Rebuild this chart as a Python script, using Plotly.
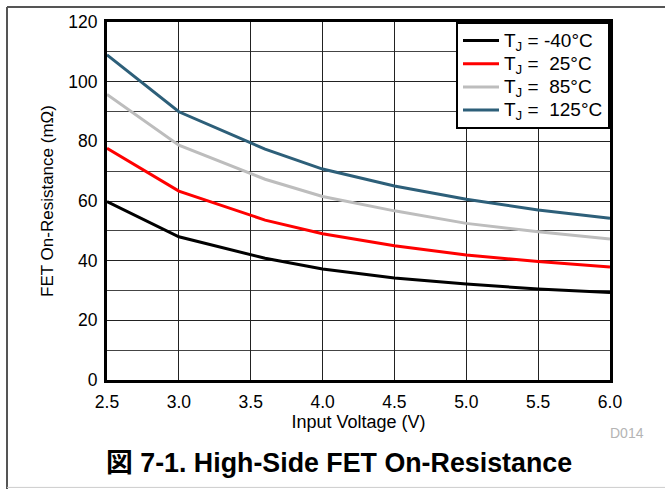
import plotly.graph_objects as go

voltage = [2.5, 3.0, 3.6, 4.0, 4.5, 5.0, 5.5, 6.0]
r_m40 = [59.8, 48.0, 40.8, 37.2, 34.2, 32.2, 30.5, 29.3]
r_25 = [77.7, 63.3, 53.6, 49.0, 45.0, 41.9, 39.7, 37.9]
r_85 = [95.7, 78.7, 67.3, 61.5, 56.7, 52.5, 49.7, 47.3]
r_125 = [109.0, 89.9, 77.4, 70.7, 65.0, 60.6, 57.0, 54.2]

labels = ["T<sub>J</sub> = -40°C", "T<sub>J</sub> =&nbsp; 25°C",
          "T<sub>J</sub> =&nbsp; 85°C", "T<sub>J</sub> =&nbsp; 125°C"]
colors = ["#000000", "#ff0000", "#bdbdbd", "#2d5f79"]
values = [r_m40, r_25, r_85, r_125]

x_ticks = [2.5, 3.0, 3.5, 4.0, 4.5, 5.0, 5.5, 6.0]
x_ticktext = ["2.5", "3.0", "3.5", "4.0", "4.5", "5.0", "5.5", "6.0"]

FONT = "Liberation Sans, Arial, sans-serif"

fig = go.Figure()
for name, vals, color in zip(labels, values, colors):
    fig.add_trace(go.Scatter(x=voltage, y=vals, mode="lines",
                             name="<span style='font-size:19px'>" + name + "</span>",
                             line=dict(color=color, width=3)))

L, R, T, B = 107, 610, 20, 380
W, H = 665, 489

fig.update_layout(
    width=W, height=H,
    margin=dict(l=L, r=W - R, t=T, b=H - B),
    paper_bgcolor="white", plot_bgcolor="white",
    font=dict(family=FONT, color="black", size=17),
    showlegend=True,
    legend=dict(x=1, y=1, xanchor="right", yanchor="top",
                bgcolor="white", bordercolor="black", borderwidth=2,
                font=dict(size=15.5, family=FONT), tracegroupgap=0,
                itemwidth=36),
    xaxis=dict(range=[2.5, 6.0], tickvals=x_ticks, ticktext=x_ticktext,
               showgrid=True, gridcolor="#222222", gridwidth=1,
               showline=True, linecolor="black", linewidth=3, mirror=True,
               ticks="", zeroline=False, tickfont=dict(size=17.5),
               ticklabelstandoff=4,
               title=dict(text="Input Voltage (V)", font=dict(size=18), standoff=4)),
    yaxis=dict(range=[0, 120], dtick=20, tick0=0,
               showgrid=True, gridcolor="#222222", gridwidth=1,
               minor=dict(dtick=10, showgrid=True, gridcolor="#444444", gridwidth=1),
               showline=True, linecolor="black", linewidth=3, mirror=True,
               ticks="", zeroline=False, tickfont=dict(size=17.5),
               ticklabelstandoff=3,
               title=dict(text="FET On-Resistance (mΩ)", font=dict(size=17), standoff=11)),
)

def px(x):
    return (x - L) / (R - L)

def py(y):
    return (B - y) / (B - T)

fig.add_annotation(text="D014", xref="paper", yref="paper", x=px(608), y=py(433),
                   xanchor="left", yanchor="middle", showarrow=False,
                   font=dict(size=14, color="#b4b4b4", family=FONT))
fig.add_annotation(text="<b>図 7-1. High-Side FET On-Resistance</b>", xref="paper", yref="paper",
                   x=px(339), y=py(463),
                   xanchor="center", yanchor="middle", showarrow=False,
                   font=dict(size=26.8, color="black", family="Liberation Sans, Noto Sans CJK JP, sans-serif"))

# outer frame
fig.add_shape(type="line", xref="paper", yref="paper",
              x0=px(7), x1=px(670), y0=py(5), y1=py(5),
              line=dict(color="#555555", width=2))
fig.add_shape(type="line", xref="paper", yref="paper",
              x0=px(7), x1=px(7), y0=py(5), y1=py(492),
              line=dict(color="#555555", width=2))
fig.add_shape(type="line", xref="paper", yref="paper",
              x0=px(7), x1=px(670), y0=py(488), y1=py(488),
              line=dict(color="#cccccc", width=1))

fig.write_html("out.html", config={"displayModeBar": False},
               post_script="document.body.style.margin='0';document.body.style.overflow='hidden';")
